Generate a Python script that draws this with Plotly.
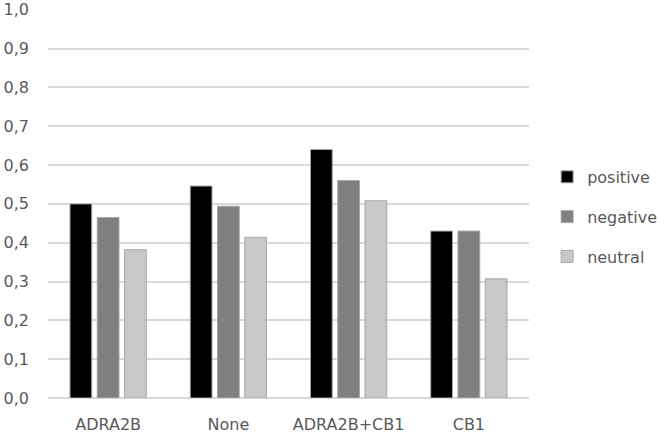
import plotly.graph_objects as go

categories = ["ADRA2B", "None", "ADRA2B+CB1", "CB1"]
positive = [0.50, 0.546, 0.640, 0.430]
negative = [0.465, 0.494, 0.560, 0.430]
neutral = [0.382, 0.414, 0.508, 0.307]

series = [
    ("positive", positive, "#000000"),
    ("negative", negative, "#7f7f7f"),
    ("neutral", neutral, "#c8c8c8"),
]

fig = go.Figure()
for name, vals, col in series:
    fig.add_trace(go.Bar(
        x=categories, y=vals, name=name, legendgroup=name,
        marker=dict(color=col, line=dict(color="#a8a8a8", width=1)),
    ))

fig.update_layout(
    width=664, height=433,
    margin=dict(l=48, r=135, t=9, b=35),
    plot_bgcolor="white", paper_bgcolor="white",
    separators=", ",
    barmode="group", bargap=0.32, bargroupgap=0.2,
    font=dict(family="DejaVu Sans", size=16, color="#595959"),
    # container refs so the legend doesn't push the right margin
    legend=dict(
        xref="container", yref="container",
        x=0.824, y=0.499, xanchor="left", yanchor="middle",
        font=dict(size=16, color="#595959"),
        itemwidth=30, traceorder="grouped", tracegroupgap=16,
    ),
)
fig.update_xaxes(showgrid=False, showline=False, ticks="", automargin=False,
                 tickfont=dict(size=16), ticklabelstandoff=15)
fig.update_yaxes(
    range=[0, 1.002], tickvals=[i / 10 for i in range(11)], tickformat=".1f",
    showgrid=True, gridcolor="#d9d9d9", gridwidth=1.5,
    zeroline=True, zerolinecolor="#d9d9d9", zerolinewidth=1.5,
    ticks="", automargin=False, tickfont=dict(size=16), ticklabelstandoff=18,
)

# page body has an 8px default margin; drop it so the chart sits at 0,0
fig.write_html("out.html", config={"displayModeBar": False},
               post_script="document.body.style.margin='0';")
